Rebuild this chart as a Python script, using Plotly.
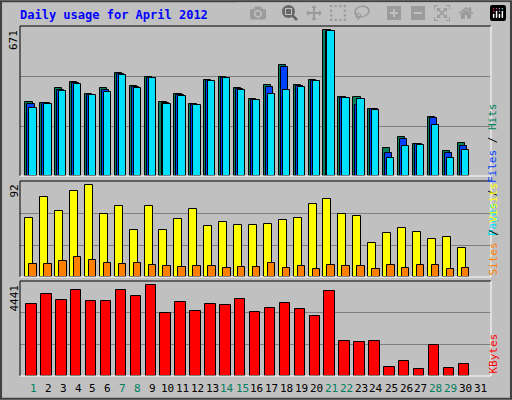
import plotly.graph_objects as go

days = list(range(1, 31))
day_labels = [str(d) for d in range(1, 32)]
weekend_days = [1, 7, 8, 14, 15, 21, 22, 28, 29]

hits = [341, 337, 406, 433, 378, 406, 474, 415, 456, 341, 378, 332, 442, 456, 406,
        355, 419, 512, 419, 442, 671, 364, 364, 310, 128, 181, 149, 273, 113, 154]
files = [332, 335, 398, 430, 375, 396, 471, 412, 453, 338, 371, 329, 439, 453, 401,
         352, 410, 502, 415, 439, 668, 361, 325, 307, 104, 172, 146, 267, 104, 140]
pages = [314, 332, 392, 424, 374, 387, 465, 406, 451, 332, 369, 328, 438, 451, 396,
         351, 378, 396, 410, 438, 666, 360, 355, 305, 85, 140, 145, 236, 81, 122]
visits = [59, 80, 66, 86, 92, 63, 71, 47, 71, 47, 58, 68, 51, 55, 52,
          52, 53, 57, 59, 73, 78, 63, 61, 34, 44, 49, 45, 38, 40, 29]
sites = [13, 13, 16, 20, 17, 14, 13, 14, 12, 11, 10, 11, 11, 9, 10,
         10, 14, 9, 11, 8, 12, 11, 11, 8, 12, 9, 12, 12, 8, 9]
kbytes = [3517, 4003, 3712, 4198, 3663, 3663, 4198, 3906, 4441, 3080, 3614, 3177, 3517, 3469, 3760,
          3128, 3323, 3566, 3274, 2934, 4149, 1718, 1669, 1718, 454, 746, 357, 1524, 405, 600]

BG = "#C0C0C0"
FONT = "DejaVu Sans Mono"
XR = [0.107, 31.7]

fig = go.Figure()


def bars(y, color, offset, width, ax):
    fig.add_trace(go.Bar(
        x=days, y=y, offset=offset, width=width, marker_color=color,
        marker_line=dict(color="black", width=1), xaxis="x" + ax, yaxis="y" + ax,
        showlegend=False, hoverinfo="y",
    ))


bars(hits, "#00805C", -0.54, 0.49, "")
bars(files, "#0040FF", -0.40, 0.49, "")
bars(pages, "#00E0FF", -0.27, 0.49, "")
bars(visits, "#FFFF00", -0.54, 0.54, "2")
bars(sites, "#FF8000", -0.27, 0.50, "2")
bars(kbytes, "#FF0000", -0.47, 0.70, "3")

top_max = 691
mid_max = 95.6
bot_max = 4619

ax_common = dict(showticklabels=False, zeroline=False, showline=False, ticks="")
fig.update_layout(
    width=512, height=400, margin=dict(l=0, r=0, t=0, b=0),
    paper_bgcolor=BG, plot_bgcolor=BG, barmode="overlay", bargap=0,
    font=dict(family=FONT, size=11, color="black"),
    xaxis=dict(domain=[20 / 512, 491 / 512], range=XR, anchor="y", showgrid=False, **ax_common),
    xaxis2=dict(domain=[20 / 512, 491 / 512], range=XR, anchor="y2", showgrid=False, **ax_common),
    xaxis3=dict(domain=[20 / 512, 491 / 512], range=XR, anchor="y3", showgrid=False, **ax_common),
    yaxis=dict(domain=[0.56, 0.935], range=[0, top_max], anchor="x",
               tickvals=[top_max / 3, top_max * 2 / 3], gridcolor="#808080", **ax_common),
    yaxis2=dict(domain=[0.3075, 0.5475], range=[0, mid_max], anchor="x2",
                tickvals=[mid_max / 3, mid_max * 2 / 3], gridcolor="#808080", **ax_common),
    yaxis3=dict(domain=[0.06, 0.2975], range=[0, bot_max], anchor="x3",
                tickvals=[bot_max / 3, bot_max * 2 / 3], gridcolor="#808080", **ax_common),
)

# frame and panel borders
shapes = [
    dict(type="rect", xref="paper", yref="paper", x0=0.002, y0=0.003, x1=0.998, y1=0.997,
         line=dict(color="#404040", width=2)),
]
for y0, y1 in [(0.56, 0.935), (0.3075, 0.5475), (0.06, 0.2975)]:
    shapes.append(dict(type="line", xref="paper", yref="paper", x0=20 / 512, x1=20 / 512,
                       y0=y0, y1=y1, line=dict(color="black", width=1)))
    shapes.append(dict(type="line", xref="paper", yref="paper", x0=20 / 512, x1=491 / 512,
                       y0=y1, y1=y1, line=dict(color="black", width=1)))
    shapes.append(dict(type="line", xref="paper", yref="paper", x0=491 / 512, x1=491 / 512,
                       y0=y0, y1=y1, line=dict(color="white", width=1)))
    shapes.append(dict(type="line", xref="paper", yref="paper", x0=20 / 512, x1=491 / 512,
                       y0=y0, y1=y0, line=dict(color="white", width=1)))
fig.update_layout(shapes=shapes)

ann = [
    dict(text="<b>Daily usage for April 2012</b>", x=18 / 512, y=1 - 15 / 400, xref="paper",
         yref="paper", xanchor="left", yanchor="middle", showarrow=False,
         font=dict(color="#0000FF", size=12, family=FONT)),
    dict(text="671", x=14 / 512, y=0.935, xref="paper", yref="paper", xanchor="center",
         yanchor="top", textangle=-90, showarrow=False, yshift=-2),
    dict(text="92", x=14 / 512, y=0.5475, xref="paper", yref="paper", xanchor="center",
         yanchor="top", textangle=-90, showarrow=False, yshift=-2),
    dict(text="4441", x=14 / 512, y=0.2975, xref="paper", yref="paper", xanchor="center",
         yanchor="top", textangle=-90, showarrow=False, yshift=-2),
    dict(text="<span style='color:#00E0FF'>Pages</span> / <span style='color:#0040FF'>Files</span>"
              " / <span style='color:#00805C'>Hits</span>",
         x=501 / 512, y=(0.56 + 0.935) / 2, xref="paper", yref="paper", textangle=-90,
         showarrow=False, font=dict(color="black")),
    dict(text="<span style='color:#FF8000'>Sites</span> / <span style='color:#FFFF00'>Visits</span>",
         x=501 / 512, y=(0.3075 + 0.5475) / 2, xref="paper", yref="paper", textangle=-90,
         showarrow=False, font=dict(color="black")),
    dict(text="KBytes", x=501 / 512, y=0.06, xref="paper", yref="paper", textangle=-90,
         yanchor="bottom", showarrow=False, font=dict(color="#FF0000")),
]
for i, lab in enumerate(day_labels):
    d = i + 1
    ann.append(dict(text=lab, x=d, y=0.06, xref="x3", yref="paper", yanchor="top", yshift=-4,
                    showarrow=False,
                    font=dict(color="#00805C" if d in weekend_days else "black", size=11)))
fig.update_layout(annotations=ann)

fig.write_html("out.html", post_script="document.body.style.margin='0';")
